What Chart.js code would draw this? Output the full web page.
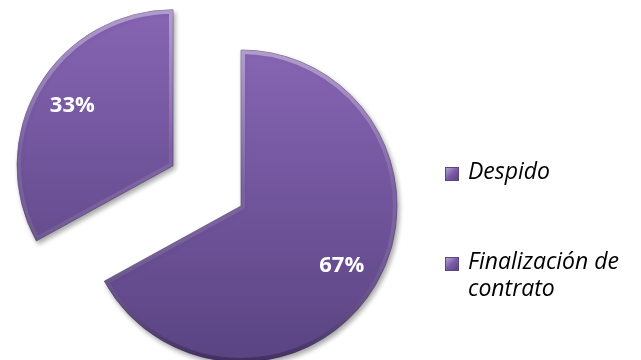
<!DOCTYPE html>
<html>
<head>
<meta charset="utf-8">
<script src="https://cdn.jsdelivr.net/npm/chart.js@4.4.1/dist/chart.umd.min.js"></script>
<style>
  html, body { margin: 0; padding: 0; background: #fff; }
  #wrap { position: relative; width: 641px; height: 360px; overflow: hidden; }
  #pie { position: absolute; left: 0; top: 0; }
  .item {
    position: absolute; left: 445px; width: 196px;
    font-family: 'Open Sans', sans-serif; font-style: italic;
    font-size: 23px; line-height: 27px; color: #000;
  }
  .item .box {
    position: absolute; left: 0; top: 10px; width: 14px; height: 14px;
    box-sizing: border-box; border: 1px solid #5a4482;
    background:
      linear-gradient(135deg, rgba(255,255,255,0.45) 0%, rgba(255,255,255,0) 50%, rgba(0,0,0,0.25) 100%),
      #7b5aa8;
  }
  .item .txt { margin-left: 23px; width: 172px; }
</style>
</head>
<body>
<div id="wrap">
  <canvas id="pie" width="641" height="360"></canvas>
</div>
<script>
// Data
const LABELS = ['Despido', 'Finalización de contrato'];
const VALUES = [67, 33];

// how far each slice is pulled out (px)
const EXPLODE = [0, 79];
// legend rows (top of each block)
const LEGEND_TOPS = [157, 247];

const wrap = document.getElementById('wrap');
LABELS.forEach((lab, i) => {
  const d = document.createElement('div');
  d.className = 'item';
  d.style.top = LEGEND_TOPS[i] + 'px';
  d.innerHTML = '<span class="box"></span><div class="txt"></div>';
  d.querySelector('.txt').textContent = lab;
  wrap.appendChild(d);
});

function shiftOf(arc, i) {
  const mid = (arc.startAngle + arc.endAngle) / 2;
  const t = EXPLODE[i] || 0;
  return { dx: Math.cos(mid) * t, dy: Math.sin(mid) * t, t, mid };
}

// pull slices out without growing their radius (Chart.js offset does)
const explode = {
  id: 'explode',
  beforeDatasetsDraw(chart) {
    const meta = chart.getDatasetMeta(0);
    meta.data.forEach((arc, i) => {
      if (arc._wrapped) return;
      const orig = arc.draw.bind(arc);
      arc.draw = function (ctx, area) {
        const s = shiftOf(arc, i);
        ctx.save();
        ctx.translate(s.dx, s.dy);
        orig(ctx, area);
        ctx.restore();
      };
      arc._wrapped = true;
    });
    const { ctx } = chart;
    ctx.save();
    ctx.shadowColor = 'rgba(0,0,0,0.35)';
    ctx.shadowBlur = 5;
    ctx.shadowOffsetX = 2;
    ctx.shadowOffsetY = 3;
  },
  afterDatasetsDraw(chart) {
    chart.ctx.restore();
  }
};

// bevel look on each slice
const bevel = {
  id: 'bevel',
  afterDatasetsDraw(chart) {
    const { ctx } = chart;
    const meta = chart.getDatasetMeta(0);
    meta.data.forEach((arc, i) => {
      const s = shiftOf(arc, i);
      ctx.save();
      ctx.translate(s.dx, s.dy);
      ctx.beginPath();
      ctx.moveTo(arc.x, arc.y);
      ctx.arc(arc.x, arc.y, arc.outerRadius, arc.startAngle, arc.endAngle);
      ctx.closePath();
      ctx.clip();
      const g = ctx.createLinearGradient(0, arc.y - arc.outerRadius, 0, arc.y + arc.outerRadius);
      g.addColorStop(0, 'rgba(255,255,255,0.38)');
      g.addColorStop(0.45, 'rgba(255,255,255,0.08)');
      g.addColorStop(1, 'rgba(30,15,50,0.4)');
      ctx.strokeStyle = g;
      ctx.lineWidth = 8;
      ctx.lineJoin = 'round';
      ctx.stroke();
      ctx.restore();
    });
  }
};

// percentage labels
const pctLabels = {
  id: 'pctLabels',
  afterDatasetsDraw(chart) {
    const { ctx } = chart;
    const meta = chart.getDatasetMeta(0);
    const total = VALUES.reduce((a, b) => a + b, 0);
    ctx.save();
    ctx.font = "bold 22px 'Open Sans', sans-serif";
    ctx.fillStyle = '#fff';
    ctx.textAlign = 'center';
    ctx.textBaseline = 'middle';
    meta.data.forEach((arc, i) => {
      const s = shiftOf(arc, i);
      const d = s.t + arc.outerRadius * 0.75;
      const pct = Math.round(VALUES[i] / total * 100) + '%';
      ctx.fillText(pct, arc.x + Math.cos(s.mid) * d, arc.y + Math.sin(s.mid) * d);
    });
    ctx.restore();
  }
};

new Chart(document.getElementById('pie'), {
  type: 'pie',
  data: {
    labels: LABELS,
    datasets: [{
      data: VALUES,
      backgroundColor: c => {
        const g = c.chart.ctx.createLinearGradient(0, 10, 0, 360);
        g.addColorStop(0, '#8c69ba');
        g.addColorStop(1, '#5a4482');
        return g;
      },
      borderColor: 'rgba(72, 52, 105, 0.6)',
      borderWidth: 1,
      hoverOffset: 0,
      clip: false,
    }],
  },
  options: {
    responsive: false,
    animation: false,
    radius: 156,
    layout: { padding: { left: 0, right: 159, top: 52, bottom: 0 } },
    plugins: {
      legend: { display: false },
      tooltip: { enabled: false },
    },
  },
  plugins: [explode, bevel, pctLabels],
});
</script>
</body>
</html>
